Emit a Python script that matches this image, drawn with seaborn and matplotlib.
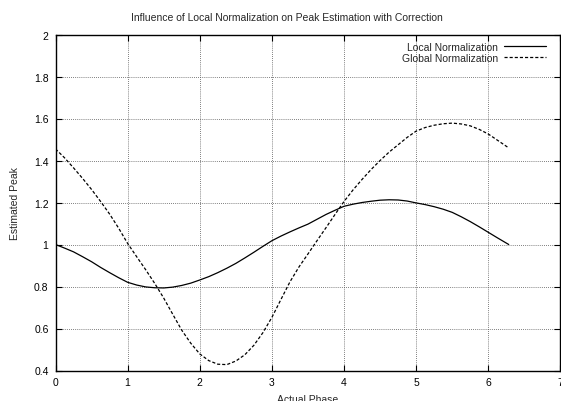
import numpy as np
import pandas as pd
import matplotlib
matplotlib.use("Agg")
import matplotlib.pyplot as plt
from matplotlib.ticker import FuncFormatter
import seaborn as sns

# ---- data ----
phase = [0.0, 0.125, 0.25, 0.375, 0.5, 0.625, 0.75, 0.875, 1.0, 1.125, 1.25,
         1.375, 1.5, 1.625, 1.75, 1.875, 2.0, 2.125, 2.25, 2.375, 2.5, 2.625,
         2.75, 2.875, 3.0, 3.125, 3.25, 3.375, 3.5, 3.625, 3.75, 3.875, 4.0,
         4.125, 4.25, 4.375, 4.5, 4.625, 4.75, 4.875, 5.0, 5.125, 5.25, 5.375,
         5.5, 5.625, 5.75, 5.875, 6.0, 6.125, 6.283]
local_norm = [1.000, 0.983, 0.965, 0.942, 0.918, 0.891, 0.866, 0.842, 0.820,
              0.807, 0.798, 0.794, 0.793, 0.797, 0.805, 0.816, 0.831, 0.847,
              0.866, 0.887, 0.910, 0.936, 0.963, 0.991, 1.018, 1.040, 1.060,
              1.079, 1.097, 1.120, 1.143, 1.163, 1.182, 1.192, 1.200, 1.206,
              1.211, 1.213, 1.212, 1.207, 1.198, 1.190, 1.180, 1.168, 1.153,
              1.132, 1.109, 1.084, 1.058, 1.032, 1.000]
global_norm = [1.455, 1.413, 1.365, 1.315, 1.262, 1.205, 1.145, 1.078, 1.005,
               0.942, 0.880, 0.815, 0.745, 0.668, 0.592, 0.530, 0.479, 0.447,
               0.430, 0.428, 0.445, 0.475, 0.520, 0.580, 0.653, 0.738, 0.822,
               0.893, 0.955, 1.018, 1.080, 1.143, 1.205, 1.260, 1.310, 1.357,
               1.400, 1.440, 1.475, 1.510, 1.540, 1.557, 1.568, 1.575, 1.578,
               1.574, 1.565, 1.548, 1.526, 1.497, 1.460]
series_labels = ["Local Normalization", "Global Normalization"]
title = "Influence of Local Normalization on Peak Estimation with Correction"
xlabel = "Actual Phase"
ylabel = "Estimated Peak"
xticks = [0, 1, 2, 3, 4, 5, 6, 7]
yticks = [0.4, 0.6, 0.8, 1.0, 1.2, 1.4, 1.6, 1.8, 2.0]

sns.set_theme(style="ticks")
plt.rcParams["font.family"] = ["Liberation Sans", "DejaVu Sans"]
FS = 7.5
plt.rcParams["font.size"] = FS

fig = plt.figure(figsize=(5.61, 4.02), dpi=100)
ax = fig.add_axes([55.5 / 561, 1 - 371.5 / 402, (561 - 55.5) / 561 - 0.001,
                   (371.5 - 35.5) / 402])

df_local = pd.DataFrame({"x": phase, "y": local_norm})
df_global = pd.DataFrame({"x": phase, "y": global_norm})

sns.lineplot(data=df_local, x="x", y="y", ax=ax, color="black", lw=0.9,
             label=series_labels[0], sort=False)
sns.lineplot(data=df_global, x="x", y="y", ax=ax, color="black", lw=0.9,
             label=series_labels[1], sort=False)
ax.lines[1].set_dashes([2.5, 1.6])

ax.set_xlim(0, 7)
ax.set_ylim(0.4, 2.0)
ax.set_xticks(xticks)
ax.set_yticks(yticks)
fmt = FuncFormatter(lambda v, p: "%g" % round(v, 2))
ax.xaxis.set_major_formatter(fmt)
ax.yaxis.set_major_formatter(fmt)
ax.tick_params(direction="in", length=4, width=0.8, top=True, right=True,
               labelsize=FS, colors="black", pad=5)
for s in ax.spines.values():
    s.set_visible(True)
    s.set_linewidth(1.0)
    s.set_color("black")
ax.grid(True, linestyle=(0, (1, 1.5)), color="#555555", linewidth=0.6)
ax.set_axisbelow(True)

ax.set_xlabel(xlabel, fontsize=FS, labelpad=5)
ax.set_ylabel(ylabel, fontsize=FS, labelpad=10)
fig.text(287 / 561, 1 - 18 / 402, title, ha="center", va="center", fontsize=FS)

leg = ax.legend(loc="upper right", frameon=False, markerfirst=False,
                handlelength=4.0, labelspacing=0.12, borderaxespad=0.3,
                handletextpad=0.6, fontsize=FS, bbox_to_anchor=(0.985, 1.0))
leg.get_lines()[1].set_dashes([2.5, 1.6])

fig.savefig("out.png", dpi=100, facecolor="white")
